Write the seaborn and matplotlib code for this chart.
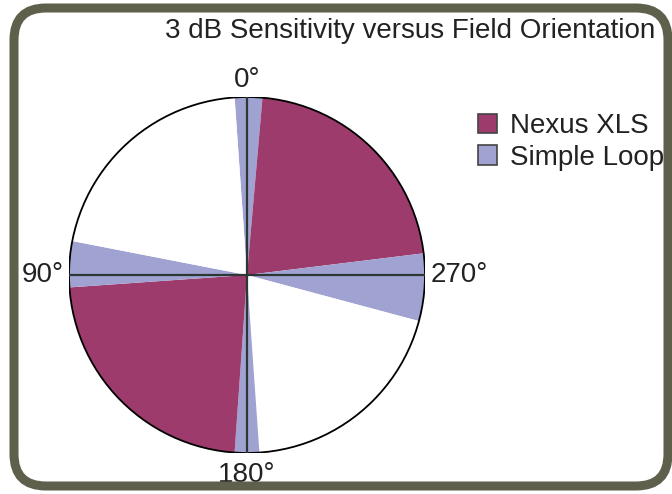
import matplotlib
matplotlib.use("Agg")
import matplotlib.pyplot as plt
import seaborn as sns
from matplotlib.patches import FancyBboxPatch, Patch, Circle
from matplotlib.transforms import IdentityTransform

# wedges clockwise from just left of 0 deg (top)
wedge_series = ["Simple Loop", "Nexus XLS", "Simple Loop", None,
                "Simple Loop", "Nexus XLS", "Simple Loop", None]
wedge_spans = [9, 78, 22, 71, 8, 82, 15, 75]
series_names = ["Nexus XLS", "Simple Loop"]
orientation_labels = ["0°", "90°", "180°", "270°"]
title = "3 dB Sensitivity versus Field Orientation"

palette = {"Nexus XLS": "#9c3b6c", "Simple Loop": "#a0a3d2", None: "white"}
text_color = "#222222"

sns.set_style("white")
plt.rcParams["font.family"] = ["Liberation Sans", "DejaVu Sans"]

W, H = 672, 494
fig = plt.figure(figsize=(W / 100, H / 100), dpi=100)

# rounded frame
frame = FancyBboxPatch((14, 8), 654, 478, boxstyle="round,pad=0,rounding_size=32",
                       transform=IdentityTransform(), facecolor="none",
                       edgecolor="#5f604b", linewidth=6.5)
fig.patches.append(frame)

cx, cy, r = 247, H - 275, 178
ax = fig.add_axes([(cx - r) / W, (cy - r) / H, 2 * r / W, 2 * r / H])
ax.pie(wedge_spans, colors=[palette[s] for s in wedge_series],
       startangle=94, counterclock=False, radius=1,
       wedgeprops=dict(linewidth=0))
ax.add_patch(Circle((0, 0), 1, facecolor="none", edgecolor="black", linewidth=1.3))
ax.plot([0, 0], [-1, 1], color="#2c3835", linewidth=1.6)
ax.plot([-1, 1], [0, 0], color="#2c3835", linewidth=1.6)
ax.set_xlim(-1, 1)
ax.set_ylim(-1, 1)
ax.set_aspect("equal")
ax.axis("off")

fs = 20
ax.text(0, 1.02, orientation_labels[0], ha="center", va="bottom", fontsize=fs, color=text_color)
ax.text(-1.03, 0, orientation_labels[1], ha="right", va="center", fontsize=fs, color=text_color)
ax.text(0, -1.05, orientation_labels[2], ha="center", va="top", fontsize=fs, color=text_color)
ax.text(1.03, 0, orientation_labels[3], ha="left", va="center", fontsize=fs, color=text_color)

fig.text(655 / W, 1 - 31 / H, title, ha="right", va="center", fontsize=20, color=text_color)

handles = [Patch(facecolor=palette[n], edgecolor="#444444", linewidth=1.2) for n in series_names]
leg = fig.legend(handles, series_names, loc="upper left",
                 bbox_to_anchor=(478 / W, 1 - 113 / H), frameon=False,
                 fontsize=20, handlelength=0.7, handleheight=0.7,
                 handletextpad=0.45, labelspacing=0.2, borderaxespad=0,
                 borderpad=0)
for t in leg.get_texts():
    t.set_color(text_color)

fig.savefig("out.png", dpi=100, facecolor="white")
